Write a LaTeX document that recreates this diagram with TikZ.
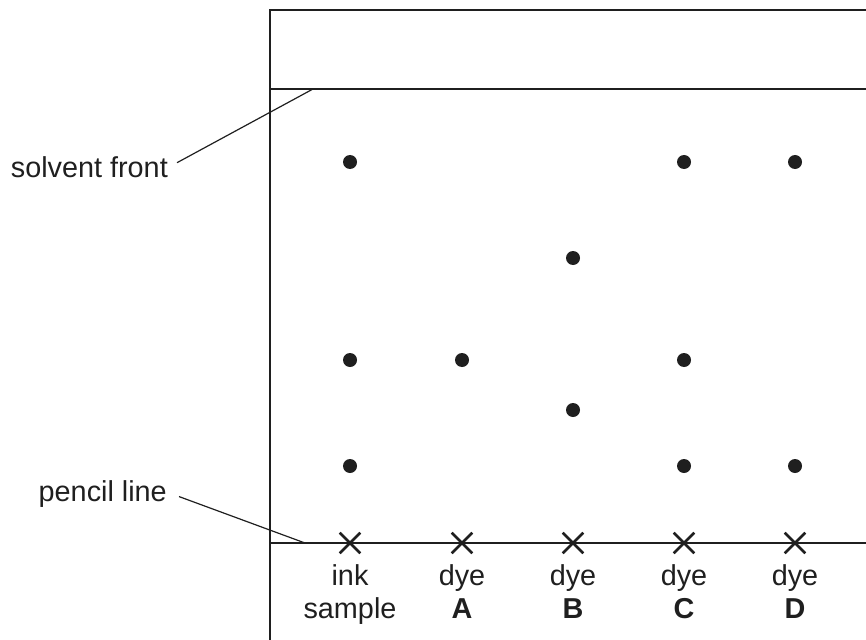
\documentclass[tikz,border=0pt]{standalone}
\usepackage{fontspec}
\setmainfont{Liberation Sans}
\usetikzlibrary{shapes.misc}
\begin{document}
\begin{tikzpicture}[x=1pt,y=-1pt,
  frame/.style={line width=2.6pt,color=black!88},
  leader/.style={line width=1.2pt,color=black!88},
  spot/.style={circle,fill=black!88,inner sep=0pt,minimum size=14pt},
  origin/.style={cross out,draw=black!88,line width=2.6pt,inner sep=0pt,minimum size=18pt},
  lbl/.style={inner sep=0pt,font=\fontsize{28.8}{34}\selectfont,text=black!88}]
\useasboundingbox (0,0) rectangle (866,639);
% frame
\coordinate (bl) at (270,641);
\coordinate (tl) at (270,10);
\coordinate (tr) at (868,10);
\coordinate (sfl) at (270,89);
\coordinate (sfr) at (868,89);
\coordinate (pll) at (270,543);
\coordinate (plr) at (868,543);
\draw[frame] (bl) -- (tl) -- (tr);
\draw[frame] (sfl) -- (sfr);
\draw[frame] (pll) -- (plr);
% leader labels
\node[lbl,anchor=base east] (sf) at (168,177) {solvent front};
\node[lbl,anchor=base east] (pl) at (167,501) {pencil line};
\coordinate (sfend) at (313,89);
\coordinate (plend) at (305,543);
\draw[leader] ([xshift=9pt,yshift=4pt]sf.east) -- (sfend);
\draw[leader] ([xshift=12pt,yshift=-3pt]pl.east) -- (plend);
% crosses
\foreach \n/\x in {i/350,a/462,b/573,c/684,d/795}{
  \node[origin] (x\n) at (\x,543) {};
}
% spots
\node[spot] (s1) at (350,162) {};
\node[spot] (s2) at (684,162) {};
\node[spot] (s3) at (795,162) {};
\node[spot] (s4) at (573,258) {};
\node[spot] (s5) at (350,360) {};
\node[spot] (s6) at (462,360) {};
\node[spot] (s7) at (684,360) {};
\node[spot] (s8) at (573,410) {};
\node[spot] (s9) at (350,466) {};
\node[spot] (s10) at (684,466) {};
\node[spot] (s11) at (795,466) {};
% bottom labels
\node[lbl,anchor=base] (li1) at (350,585) {ink};
\node[lbl,anchor=base] (li2) at (350,618) {sample};
\node[lbl,anchor=base] (la1) at (462,585) {dye};
\node[lbl,anchor=base] (la2) at (462,618) {\bfseries A};
\node[lbl,anchor=base] (lb1) at (573,585) {dye};
\node[lbl,anchor=base] (lb2) at (573,618) {\bfseries B};
\node[lbl,anchor=base] (lc1) at (684,585) {dye};
\node[lbl,anchor=base] (lc2) at (684,618) {\bfseries C};
\node[lbl,anchor=base] (ld1) at (795,585) {dye};
\node[lbl,anchor=base] (ld2) at (795,618) {\bfseries D};
\end{tikzpicture}
\end{document}
